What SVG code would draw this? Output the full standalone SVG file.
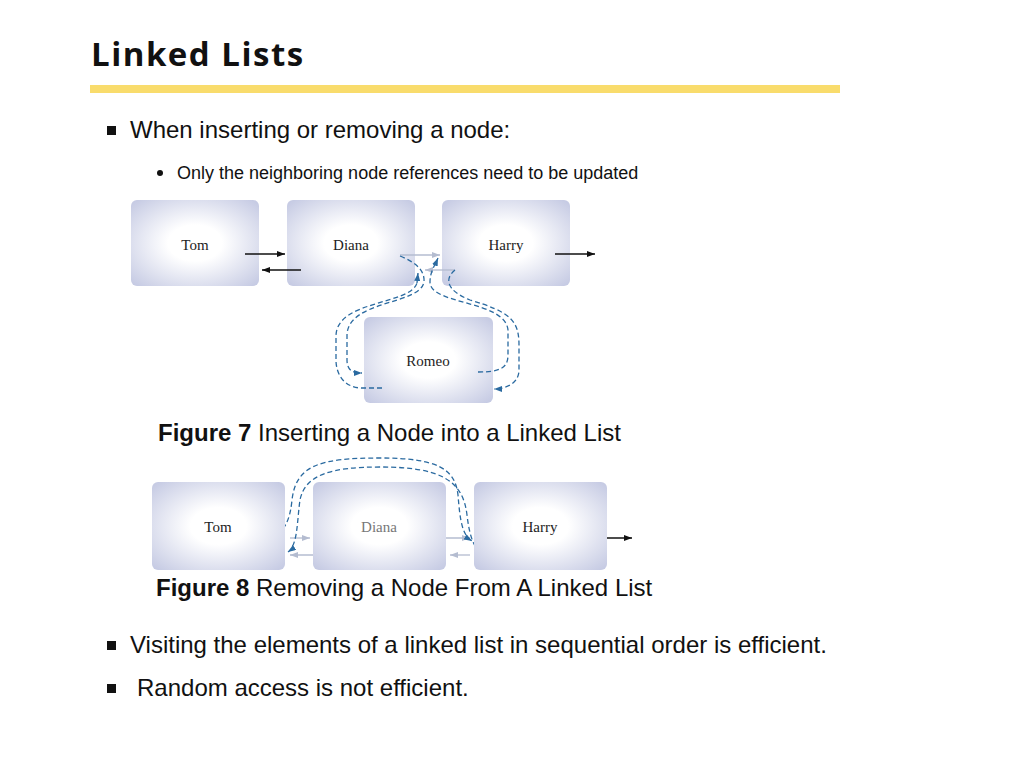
<svg xmlns="http://www.w3.org/2000/svg" width="1024" height="768" viewBox="0 0 1024 768">
<style>
.t{font-family:"Liberation Sans",Arial,sans-serif;fill:#111}
.n{font-family:"Liberation Serif","Times New Roman",serif;font-size:15px;fill:#222;text-anchor:middle}
.box{fill:url(#g)}
.k{stroke:#111;stroke-width:1.3;fill:none;marker-end:url(#ak)}
.f{stroke:#b4bcd0;stroke-width:1.3;fill:none;marker-end:url(#af)}
.d{stroke:#2a6aa0;stroke-width:1.3;fill:none;stroke-dasharray:5 3}
.da{marker-end:url(#ab)}
</style>
<defs>
<radialGradient id="g" cx="0.5" cy="0.5" r="0.7">
<stop offset="0.3" stop-color="#ffffff"/><stop offset="1" stop-color="#c3c8e2"/>
</radialGradient>
<marker id="ak" markerWidth="8" markerHeight="6" refX="8" refY="3" orient="auto" markerUnits="userSpaceOnUse"><path d="M0,0L8,3L0,6z" fill="#111"/></marker>
<marker id="af" markerWidth="8" markerHeight="6" refX="8" refY="3" orient="auto" markerUnits="userSpaceOnUse"><path d="M0,0L8,3L0,6z" fill="#b4bcd0"/></marker>
<marker id="ab" markerWidth="8" markerHeight="6" refX="8" refY="3" orient="auto" markerUnits="userSpaceOnUse"><path d="M0,0L8,3L0,6z" fill="#2a6aa0"/></marker>
</defs>
<rect width="1024" height="768" fill="#fff"/>
<text x="91" y="66" style="font-family:'Open Sans',sans-serif;font-weight:bold;font-size:33px;letter-spacing:1.5px;fill:#111">Linked Lists</text>
<rect x="90" y="85" width="750" height="8" fill="#f9dc6c"/>
<rect x="107" y="126" width="9" height="9" fill="#111"/>
<text class="t" x="130" y="138" font-size="24">When inserting or removing a node:</text>
<circle cx="160" cy="173" r="3" fill="#111"/>
<text class="t" x="177" y="179" font-size="18">Only the neighboring node references need to be updated</text>

<g id="tom7"><rect class="box" x="131" y="200" width="128" height="86" rx="6"/><text class="n" x="195" y="250">Tom</text></g>
<g id="diana7"><rect class="box" x="287" y="200" width="128" height="86" rx="6"/><text class="n" x="351" y="250">Diana</text></g>
<g id="harry7"><rect class="box" x="442" y="200" width="128" height="86" rx="6"/><text class="n" x="506" y="250">Harry</text></g>
<g id="romeo7"><rect class="box" x="364" y="317" width="129" height="86" rx="6"/><text class="n" x="428" y="366">Romeo</text></g>

<g id="connectors">
<path class="k" d="M245,254H285"/>
<path class="k" d="M301,270H262"/>
<path class="k" d="M555,254H595"/>
<path class="f" d="M400,255H440"/>
<path class="f" d="M455,270H425"/>
<path class="d da" d="M400,256C415,262 425,270 424,282C420,305 348,300 347,335L347,360C347,372 355,373 362,373"/>
<path class="d" d="M382,388L362,388C345,388 336,375 336,360L336,335C338,300 410,305 417,283"/>
<path class="d da" d="M417,283L418,273"/>
<path class="d da" d="M478,372C500,372 508,368 508,355L508,330C505,300 430,305 430,282C430,272 435,265 438,258"/>
<path class="d da" d="M455,270C445,278 445,290 470,300C510,312 519,320 519,345L519,370C519,384 505,389 494,389"/>

<path class="f" d="M290,538H310"/>
<path class="f" d="M330,555H290"/>
<path class="f" d="M430,538H470"/>
<path class="f" d="M470,555H450"/>
<path class="k" d="M590,538H632"/>
<path class="d da" d="M270,538C285,532 290,520 292,500C296,465 320,458 380,458C440,458 455,470 458,495C460,520 462,535 472,541"/>
<path class="d da" d="M488,556C475,552 470,540 467,515C463,480 440,467 380,467C330,467 305,475 300,500C297,520 298,545 288,552"/>
</g>

<text class="t" x="158" y="441" font-size="24"><tspan font-weight="bold">Figure 7</tspan> Inserting a Node into a Linked List</text>

<g id="tom8"><rect class="box" x="152" y="482" width="133" height="88" rx="6"/><text class="n" x="218" y="532">Tom</text></g>
<g id="diana8"><rect class="box" x="313" y="482" width="133" height="88" rx="6"/><text class="n" x="379" y="532" style="fill:#777">Diana</text></g>
<g id="harry8"><rect class="box" x="474" y="482" width="133" height="88" rx="6"/><text class="n" x="540" y="532">Harry</text></g>

<text class="t" x="156" y="596" font-size="24"><tspan font-weight="bold">Figure 8</tspan> Removing a Node From A Linked List</text>
<rect x="107" y="641" width="9" height="9" fill="#111"/>
<text class="t" x="130" y="653" font-size="24">Visiting the elements of a linked list in sequential order is efficient.</text>
<rect x="107" y="684" width="9" height="9" fill="#111"/>
<text class="t" x="137" y="696" font-size="24">Random access is not efficient.</text>
</svg>
